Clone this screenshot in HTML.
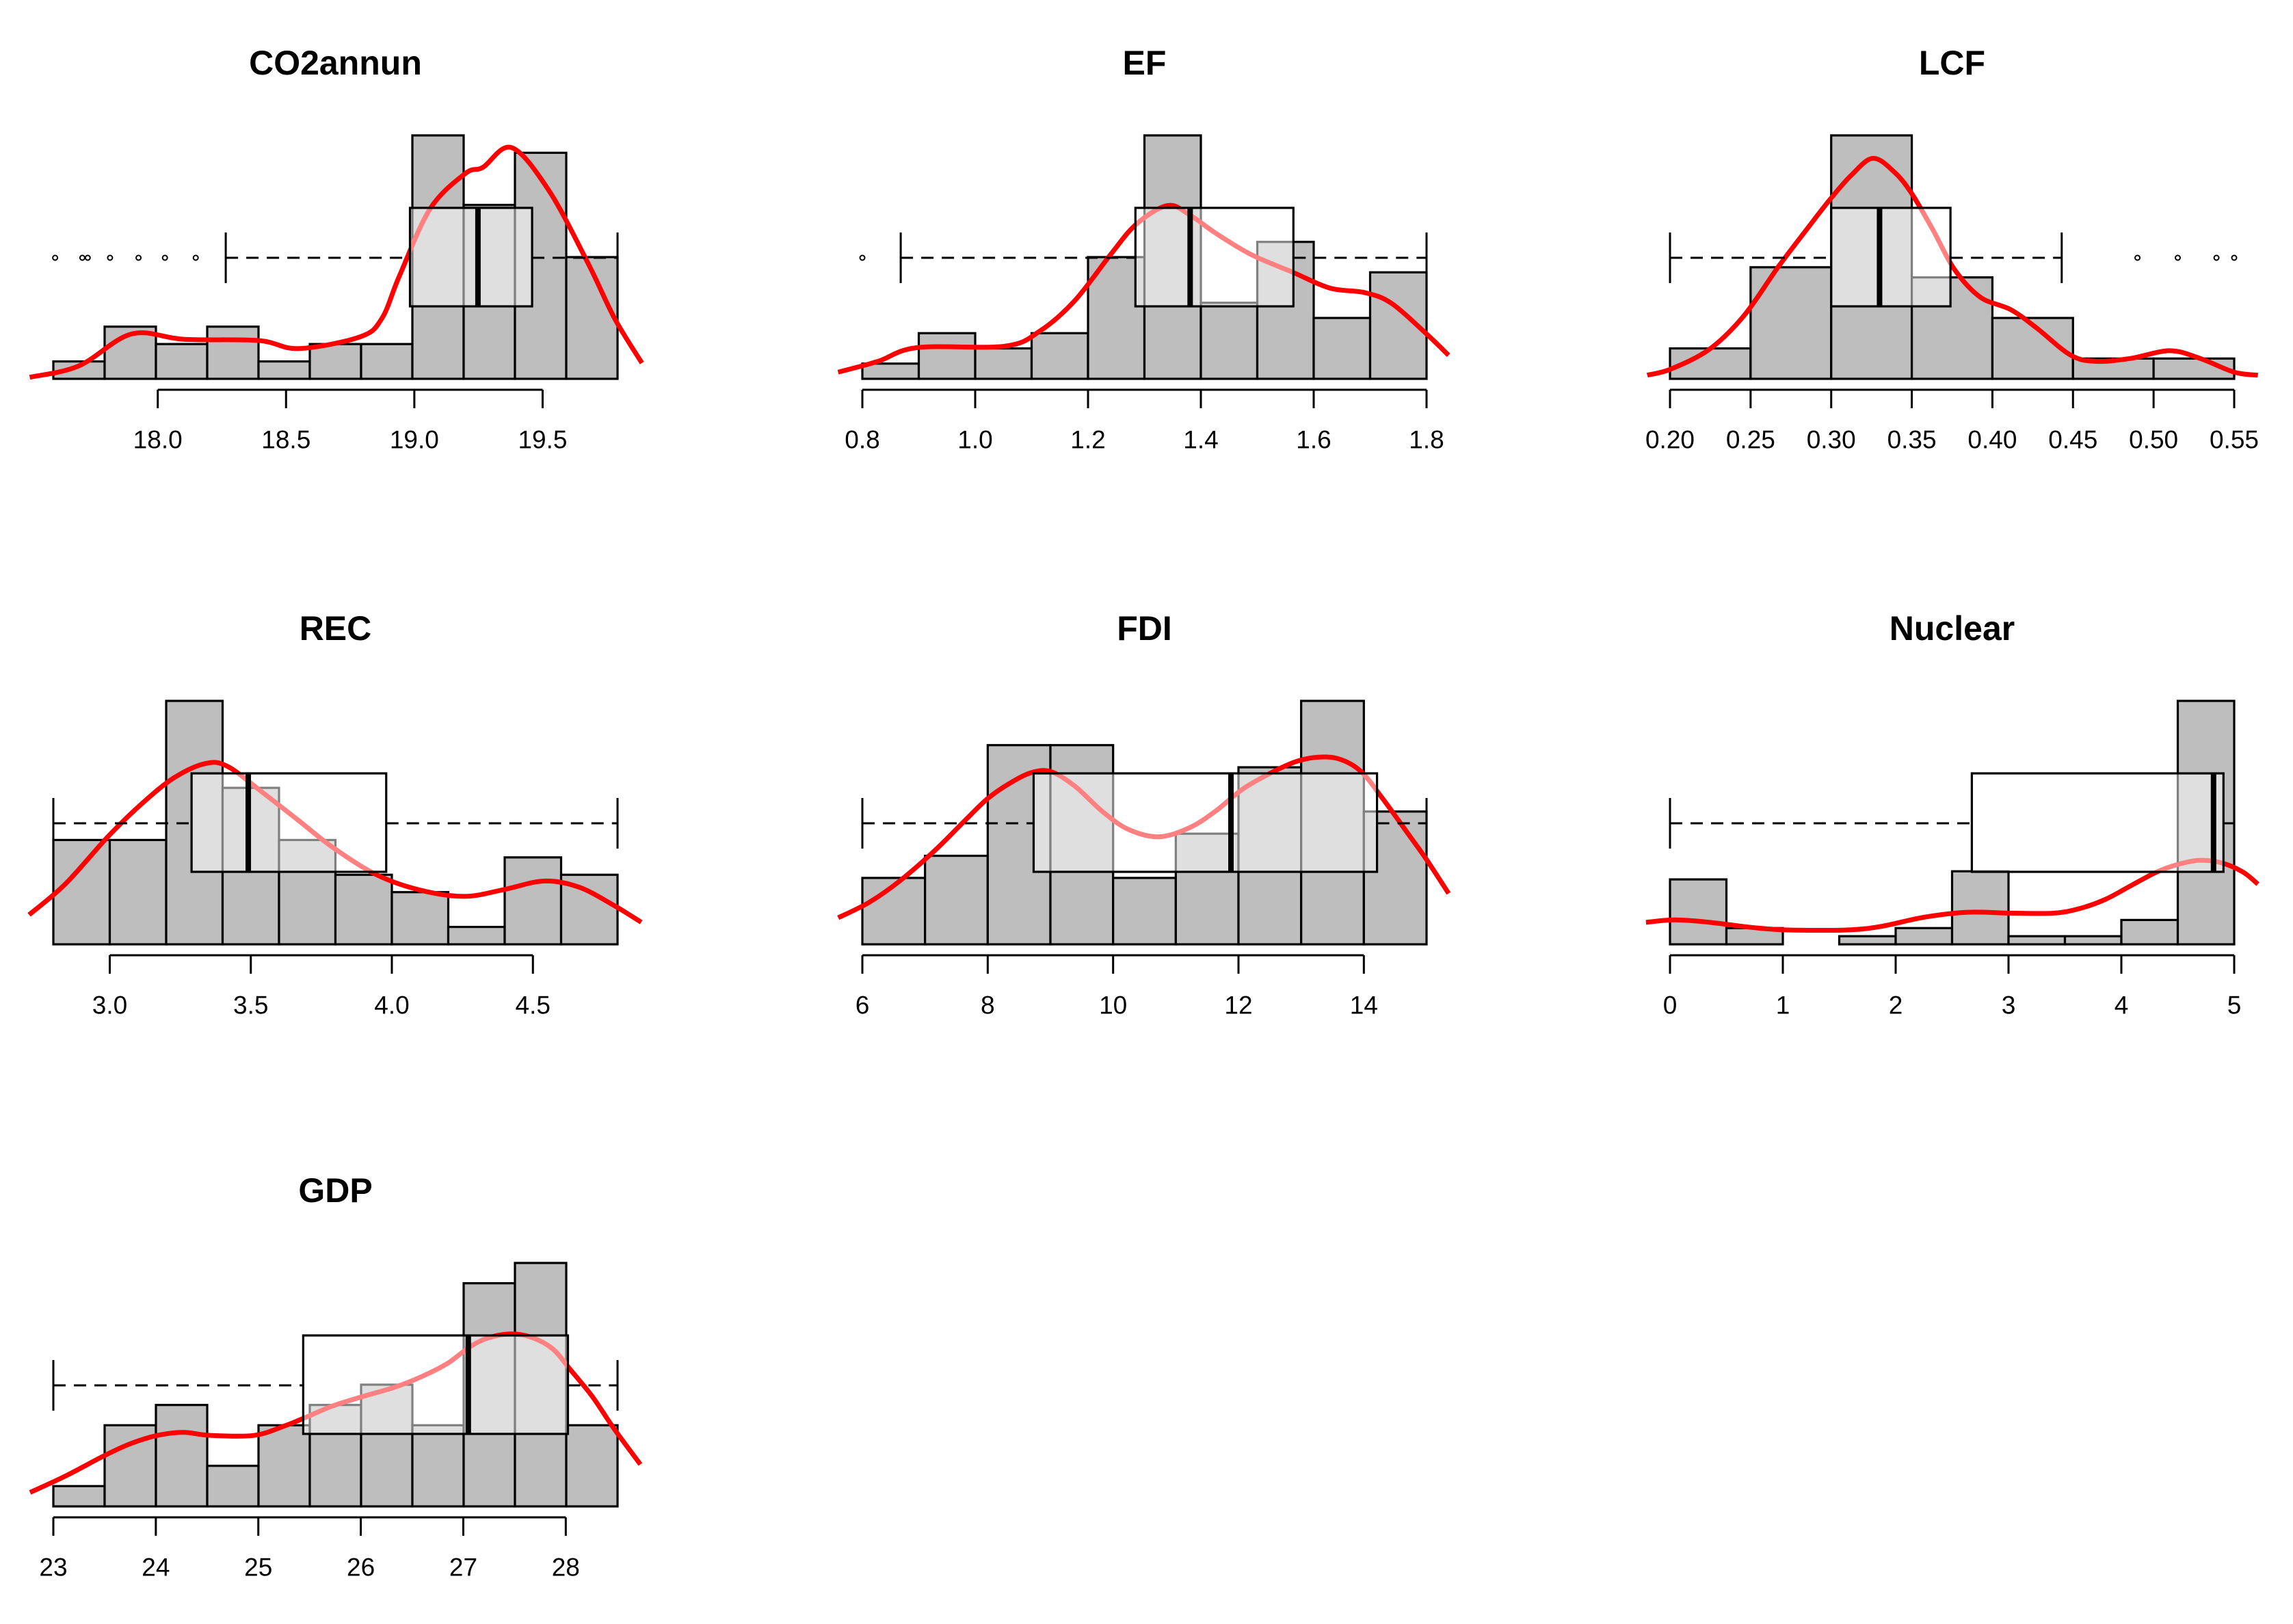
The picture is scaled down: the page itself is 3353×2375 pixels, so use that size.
<!DOCTYPE html>
<html><head><meta charset="utf-8"><style>html,body{margin:0;padding:0;background:#fff}svg{display:block}</style></head>
<body>
<svg id="chart" xmlns="http://www.w3.org/2000/svg" width="3353" height="2375" viewBox="0 0 3353 2375"></svg>
<script>
// ---- data ----
const co2Counts=[1,3,2,3,1,2,2,14,10,13,7];
const co2Range=[17.593,19.792];
const co2Ticks=[18.0,18.5,19.0,19.5];
const co2TickLabels=["18.0","18.5","19.0","19.5"];
const co2Box=[18.265,18.983,19.248,19.459,19.792];
const co2Outliers=[17.6,17.706,17.727,17.814,17.925,18.028,18.148];
const co2DensX=[17.501,17.692,17.898,18.103,18.394,18.548,18.788,18.873,18.942,19.062,19.199,19.267,19.379,19.524,19.678,19.781,19.887];
const co2DensY=[0.09,0.74,2.58,2.27,2.20,1.74,2.41,3.46,5.92,9.79,11.81,12.16,13.30,10.84,6.62,3.46,0.91];

const efCounts=[1,3,2,3,8,16,5,9,4,7];
const efRange=[0.8,1.8];
const efTicks=[0.8,1.0,1.2,1.4,1.6,1.8];
const efTickLabels=["0.8","1.0","1.2","1.4","1.6","1.8"];
const efBox=[0.868,1.284,1.381,1.564,1.8];
const efOutliers=[0.8];
const efDensX=[0.757,0.827,0.897,1.053,1.115,1.177,1.240,1.286,1.341,1.380,1.426,1.489,1.565,1.629,1.691,1.738,1.800,1.839];
const efDensY=[0.44,1.14,2.05,2.15,3.15,5.16,8.17,10.18,11.39,10.78,9.58,8.17,6.97,5.96,5.66,4.96,2.95,1.55];

const lcfCounts=[3,11,24,10,6,2,2];
const lcfRange=[0.20,0.55];
const lcfTicks=[0.20,0.25,0.30,0.35,0.40,0.45,0.50,0.55];
const lcfTickLabels=["0.20","0.25","0.30","0.35","0.40","0.45","0.50","0.55"];
const lcfBox=[0.2,0.300,0.330,0.374,0.443];
const lcfOutliers=[0.490,0.515,0.539,0.550];
const lcfDensX=[0.1859,0.2005,0.2245,0.2459,0.2672,0.2859,0.2992,0.3125,0.3259,0.3392,0.3499,0.3632,0.3766,0.3926,0.4113,0.4273,0.4487,0.4647,0.4860,0.5100,0.5287,0.5500,0.5647];
const lcfDensY=[0.36,0.96,2.92,6.23,11.05,14.96,17.67,20.08,21.74,20.38,18.28,14.66,10.75,8.04,6.83,5.03,2.32,1.72,2.02,2.77,2.02,0.66,0.36];

const recCounts=[6,6,14,9,6,4,3,1,5,4];
const recRange=[2.8,4.8];
const recTicks=[3.0,3.5,4.0,4.5];
const recTickLabels=["3.0","3.5","4.0","4.5"];
const recBox=[2.8,3.290,3.491,3.980,4.8];
const recOutliers=[];
const recDensX=[2.714,2.842,2.998,3.122,3.231,3.340,3.418,3.542,3.667,3.791,3.947,4.102,4.258,4.398,4.539,4.663,4.788,4.884];
const recDensY=[1.70,3.46,6.27,8.21,9.61,10.40,10.23,8.73,7.15,5.57,3.99,3.11,2.76,3.15,3.64,3.29,2.23,1.27];

const fdiCounts=[3,4,9,9,3,5,8,11,6];
const fdiRange=[6,15];
const fdiTicks=[6,8,10,12,14];
const fdiTickLabels=["6","8","10","12","14"];
const fdiBox=[6,8.732,11.88,14.21,15];
const fdiOutliers=[];
const fdiDensX=[5.615,6.105,6.595,7.156,7.646,7.996,8.347,8.697,9.012,9.398,9.818,10.238,10.729,11.219,11.639,12.060,12.480,12.900,13.250,13.601,13.951,14.301,14.722,15.002,15.352];
const fdiDensY=[1.20,1.89,2.86,4.24,5.62,6.58,7.27,7.76,7.80,7.13,6.03,5.20,4.86,5.27,6.03,7.00,7.69,8.24,8.45,8.38,7.82,6.58,4.93,3.82,2.30];

const nucCounts=[8,2,0,1,2,9,1,1,3,30];
const nucRange=[0,5];
const nucTicks=[0,1,2,3,4,5];
const nucTickLabels=["0","1","2","3","4","5"];
const nucBox=[0,2.675,4.817,4.905,5];
const nucOutliers=[];
const nucDensX=[-0.213,0.046,0.351,0.732,1.037,1.570,1.875,2.256,2.637,3.018,3.399,3.628,3.857,4.085,4.314,4.505,4.695,4.886,5.076,5.210];
const nucDensY=[2.71,3.01,2.71,2.07,1.77,1.77,2.22,3.35,3.95,3.84,3.84,4.40,5.53,7.23,8.92,9.86,10.35,10.05,8.92,7.42];

const gdpCounts=[1,4,5,2,4,5,6,4,11,12,4];
const gdpRange=[23,28.505];
const gdpTicks=[23,24,25,26,27,28];
const gdpTickLabels=["23","24","25","26","27","28"];
const gdpBox=[23,25.438,27.049,28.021,28.505];
const gdpOutliers=[];
const gdpDensX=[22.773,23.116,23.501,23.758,24.015,24.272,24.530,24.958,25.258,25.472,25.729,26.029,26.329,26.586,26.843,27.057,27.229,27.443,27.657,27.871,28.043,28.257,28.471,28.728];
const gdpDensY=[0.69,1.49,2.51,3.10,3.50,3.65,3.50,3.50,3.97,4.41,4.96,5.43,5.87,6.38,7.04,7.84,8.28,8.50,8.35,7.77,6.75,5.43,3.83,2.07];

const panelTitles=["CO2annun","EF","LCF","REC","FDI","Nuclear","GDP"];
const panels=[
 {key:"co2",counts:co2Counts,range:co2Range,ticks:co2Ticks,labels:co2TickLabels,box:co2Box,out:co2Outliers,dx:co2DensX,dy:co2DensY},
 {key:"ef",counts:efCounts,range:efRange,ticks:efTicks,labels:efTickLabels,box:efBox,out:efOutliers,dx:efDensX,dy:efDensY},
 {key:"lcf",counts:lcfCounts,range:lcfRange,ticks:lcfTicks,labels:lcfTickLabels,box:lcfBox,out:lcfOutliers,dx:lcfDensX,dy:lcfDensY},
 {key:"rec",counts:recCounts,range:recRange,ticks:recTicks,labels:recTickLabels,box:recBox,out:recOutliers,dx:recDensX,dy:recDensY},
 {key:"fdi",counts:fdiCounts,range:fdiRange,ticks:fdiTicks,labels:fdiTickLabels,box:fdiBox,out:fdiOutliers,dx:fdiDensX,dy:fdiDensY},
 {key:"nuclear",counts:nucCounts,range:nucRange,ticks:nucTicks,labels:nucTickLabels,box:nucBox,out:nucOutliers,dx:nucDensX,dy:nucDensY},
 {key:"gdp",counts:gdpCounts,range:gdpRange,ticks:gdpTicks,labels:gdpTickLabels,box:gdpBox,out:gdpOutliers,dx:gdpDensX,dy:gdpDensY}
];

// ---- layout ----
const NS="http://www.w3.org/2000/svg";
const svg=document.getElementById('chart');
const colX=[78,1261,2442], rowY=[554,1381,2203], W=825, H=356;
function mk(tag,attrs,parent){const e=document.createElementNS(NS,tag);for(const k in attrs)e.setAttribute(k,attrs[k]);parent.appendChild(e);return e;}

panels.forEach((p,i)=>{
  const left=colX[i%3], base=rowY[Math.floor(i/3)];
  const g=mk('g',{},svg);
  
  
  const sx=v=>left+(v-p.range[0])/(p.range[1]-p.range[0])*W;
  const maxC=Math.max(...p.counts);
  const sy=c=>base-c/maxC*H;
  // title
  const t=mk('text',{x:left+W/2,y:base-462,'text-anchor':'middle','dominant-baseline':'central','font-family':'Liberation Sans, sans-serif','font-weight':'bold','font-size':'50'},g);
  t.textContent=panelTitles[i];
  
  
  // bars
  const n=p.counts.length, bw=(p.range[1]-p.range[0])/n;
  p.counts.forEach((c,j)=>{
    const x0=sx(p.range[0]+j*bw), x1=sx(p.range[0]+(j+1)*bw);
    const r=mk('rect',{x:x0,y:sy(c),width:x1-x0,height:base-sy(c),fill:'#bebebe',stroke:'#000','stroke-width':3.2},g);
    
    
  });
  // density curve (Catmull-Rom)
  const pts=p.dx.map((x,k)=>[sx(x),sy(p.dy[k])]);
  let d='M'+pts[0][0]+','+pts[0][1];
  for(let k=0;k<pts.length-1;k++){
    const p0=pts[Math.max(0,k-1)],p1=pts[k],p2=pts[k+1],p3=pts[Math.min(pts.length-1,k+2)];
    d+=' C'+(p1[0]+(p2[0]-p0[0])/6)+','+(p1[1]+(p2[1]-p0[1])/6)+' '+(p2[0]-(p3[0]-p1[0])/6)+','+(p2[1]-(p3[1]-p1[1])/6)+' '+p2[0]+','+p2[1];
  }
  const cv=mk('path',{d:d,fill:'none',stroke:'#ff0000','stroke-width':7},g);
  
  
  // boxplot
  const bTop=base-250,bBot=base-106,wy=base-177;
  const [wlo,q1,med,q3,whi]=p.box;
  const bx=mk('rect',{x:sx(q1),y:bTop,width:sx(q3)-sx(q1),height:bBot-bTop,fill:'rgba(255,255,255,0.5)',stroke:'#000','stroke-width':3.2},g);
  
  
  const md=mk('line',{x1:sx(med),x2:sx(med),y1:bTop,y2:bBot,stroke:'#000','stroke-width':8},g);
  
  
  [[wlo,q1],[q3,whi]].forEach(([a,b])=>{
    const wl=mk('line',{x1:sx(a),x2:sx(b),y1:wy,y2:wy,stroke:'#000','stroke-width':3,'stroke-dasharray':'18 12'},g);
    
    
  });
  [wlo,whi].forEach(v=>{
    const cp=mk('line',{x1:sx(v),x2:sx(v),y1:wy-37,y2:wy+37,stroke:'#000','stroke-width':3},g);
    
    
  });
  p.out.forEach(v=>{
    const o=mk('circle',{cx:sx(v),cy:wy,r:3.5,fill:'none',stroke:'#000','stroke-width':2},g);
    
    
  });
  // axis
  const ay=base+16;
  const ax=mk('line',{x1:sx(p.ticks[0]),x2:sx(p.ticks[p.ticks.length-1]),y1:ay,y2:ay,stroke:'#000','stroke-width':3},g);
  
  
  p.ticks.forEach((v,k)=>{
    const tk=mk('line',{x1:sx(v),x2:sx(v),y1:ay,y2:base+43,stroke:'#000','stroke-width':3},g);
    
    
    const tl=mk('text',{x:sx(v),y:base+89,'text-anchor':'middle','dominant-baseline':'central','font-family':'Liberation Sans, sans-serif','font-size':'37'},g);
    tl.textContent=p.labels[k];
    
    
  });
});
</script>
</body></html>
